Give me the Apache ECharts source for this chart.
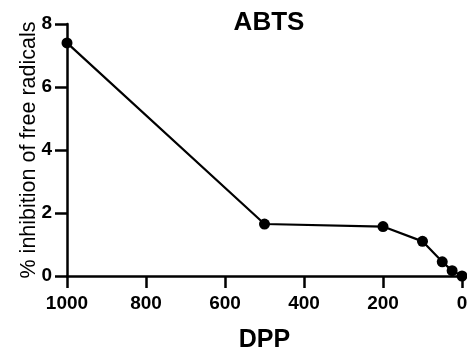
<!DOCTYPE html>
<html>
<head>
<meta charset="utf-8">
<script src="https://cdn.jsdelivr.net/npm/echarts@6/dist/echarts.min.js"></script>
<style>
  html, body { margin: 0; padding: 0; background: #fff; }
  #chart { width: 467px; height: 353px; }
</style>
</head>
<body>
<div id="chart"></div>
<script>
// DPP concentration and % inhibition
var dpp = [1000, 500, 200, 100, 50, 25, 0]
var inhibition = [7.4, 1.65, 1.57, 1.1, 0.45, 0.17, 0.0]
var xTicks = [0, 200, 400, 600, 800, 1000]
var yTicks = [0, 2, 4, 6, 8]

var font = 'Arial, "Liberation Sans", sans-serif'
var myChart = echarts.init(document.getElementById('chart'))

var points = dpp.map(function (d, i) { return [d, inhibition[i]] })

var option = {
  animation: false,
  title: {
    text: 'ABTS',
    left: 264,
    top: 5,
    textAlign: 'center',
    textStyle: { color: '#000', fontWeight: 'bold', fontSize: 26, fontFamily: font }
  },
  grid: { left: 67, right: 5, top: 24, bottom: 77, outerBoundsMode: 'none' },
  xAxis: {
    type: 'value',
    inverse: true,
    min: xTicks[0],
    max: xTicks[xTicks.length - 1],
    interval: 200,
    name: 'DPP',
    nameLocation: 'middle',
    nameGap: 52,
    nameMoveOverlap: false,
    nameTextStyle: { color: '#000', fontWeight: 'bold', fontSize: 25, fontFamily: font },
    axisLine: { onZero: false, lineStyle: { color: '#000', width: 2.5 } },
    axisTick: { length: 12, lineStyle: { color: '#000', width: 2.5 } },
    axisLabel: { margin: 18, color: '#000', fontWeight: 'bold', fontSize: 19, fontFamily: font, formatter: function (v) { return String(v) } },
    splitLine: { show: false }
  },
  yAxis: {
    type: 'value',
    position: 'left',
    min: yTicks[0],
    max: yTicks[yTicks.length - 1],
    interval: 2,
    name: '% inhibition of free radicals',
    nameLocation: 'middle',
    nameGap: 27,
    nameMoveOverlap: false,
    nameTextStyle: { color: '#000', fontSize: 21.5, fontFamily: font },
    axisLine: { show: true, onZero: false, lineStyle: { color: '#000', width: 2.5 } },
    axisTick: { show: true, length: 12, lineStyle: { color: '#000', width: 2.5 } },
    axisLabel: { margin: 15, color: '#000', fontWeight: 'bold', fontSize: 19, fontFamily: font },
    splitLine: { show: false }
  },
  series: [{
    type: 'line',
    data: points,
    symbol: 'circle',
    symbolSize: 11,
    itemStyle: { color: '#000' },
    lineStyle: { color: '#000', width: 2.2 }
  }]
}
myChart.setOption(option)
</script>
</body>
</html>
